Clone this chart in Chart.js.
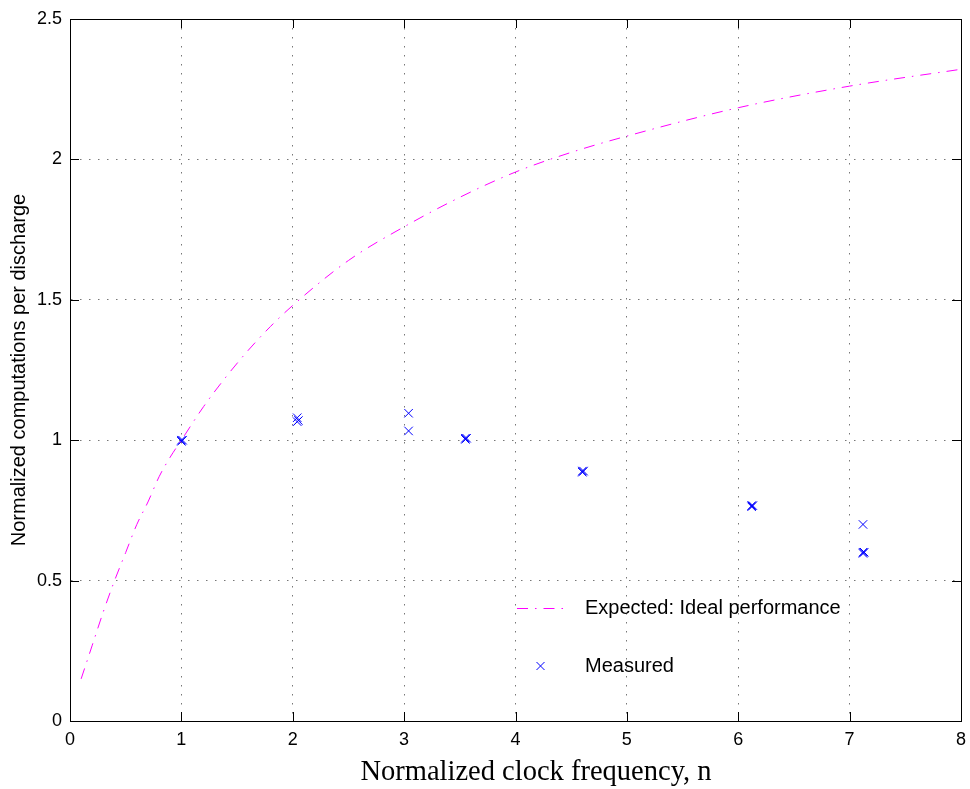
<!DOCTYPE html>
<html>
<head>
<meta charset="utf-8">
<script src="https://cdn.jsdelivr.net/npm/chart.js@4/dist/chart.umd.min.js"></script>
<style>
  html, body { margin: 0; padding: 0; background: #fff; }
  #wrap { width: 970px; height: 789px; }
</style>
</head>
<body>
<div id="wrap"><canvas id="chart" width="970" height="789"></canvas></div>
<script>
// expected (ideal) curve
const idealX = [0.1, 0.2, 0.3, 0.4, 0.5, 0.6, 0.7, 0.8, 0.9, 1.0, 1.2, 1.4, 1.6, 1.8, 2.0, 2.5, 3.0, 3.5, 4.0, 4.5, 5.0, 6.0, 7.0, 8.0];
const idealY = [0.15, 0.27, 0.39, 0.50, 0.60, 0.70, 0.78, 0.87, 0.94, 1.0, 1.12, 1.225, 1.32, 1.405, 1.48, 1.64, 1.76, 1.865, 1.955, 2.025, 2.083, 2.184, 2.261, 2.321];

// measured points (bold crosses are several runs lying almost on top of each other)
const measX = [1.0, 1.011, 1.0, 2.04, 2.051, 2.04, 3.04, 3.04, 3.55, 3.561, 3.55, 4.6, 4.611, 4.6, 6.12, 6.131, 6.12, 7.12, 7.12, 7.131, 7.12];
const measY = [1.0, 1.0, 0.996, 1.08, 1.07, 1.066, 1.096, 1.033, 1.007, 1.007, 1.003, 0.89, 0.89, 0.886, 0.767, 0.767, 0.763, 0.70, 0.601, 0.601, 0.597];

const xTicks = [0, 1, 2, 3, 4, 5, 6, 7, 8];
const yTicks = [0, 0.5, 1, 1.5, 2, 2.5];

const legendLabels = ['Expected: Ideal performance', 'Measured'];
const xTitle = 'Normalized clock frequency, n';

const DASHDOT = [11, 7, 1.5, 7];

// box round the plot + ticks pointing inwards + legend inside the axes + x title
const boxPlugin = {
    id: 'boxPlugin',
    afterDraw(chart) {
        const { ctx, chartArea: a, scales: { x, y } } = chart;
        ctx.save();
        ctx.strokeStyle = '#000';
        ctx.lineWidth = 1;
        ctx.strokeRect(a.left + 0.5, a.top + 0.5, a.right - a.left, a.bottom - a.top);
        ctx.beginPath();
        const t = 9;
        xTicks.forEach(v => {
            const px = Math.round(x.getPixelForValue(v)) + 0.5;
            ctx.moveTo(px, a.bottom); ctx.lineTo(px, a.bottom - t);
            ctx.moveTo(px, a.top); ctx.lineTo(px, a.top + t);
        });
        yTicks.forEach(v => {
            const py = Math.round(y.getPixelForValue(v)) + 0.5;
            ctx.moveTo(a.left, py); ctx.lineTo(a.left + t, py);
            ctx.moveTo(a.right, py); ctx.lineTo(a.right - t, py);
        });
        ctx.stroke();

        // x axis title (sits a little right of centre in the original)
        ctx.font = '28.5px "Liberation Serif", "Times New Roman", serif';
        ctx.fillStyle = '#000';
        ctx.textAlign = 'center';
        ctx.textBaseline = 'middle';
        ctx.fillText(xTitle, 536, 773);

        // legend
        ctx.font = '20px "Liberation Sans", Arial, sans-serif';
        ctx.textAlign = 'left';
        const lx0 = 517, lx1 = 567, tx = 585;
        const ly = [608, 666];
        ctx.strokeStyle = '#ff00ff';
        ctx.setLineDash(DASHDOT);
        ctx.beginPath();
        ctx.moveTo(lx0, ly[0] + 0.5); ctx.lineTo(lx1, ly[0] + 0.5);
        ctx.stroke();
        ctx.setLineDash([]);
        ctx.fillText(legendLabels[0], tx, ly[0]);
        ctx.strokeStyle = '#0000ff';
        const r = 4, cx = (lx0 + lx1) / 2 - 1.5;
        ctx.beginPath();
        ctx.moveTo(cx - r, ly[1] - r); ctx.lineTo(cx + r, ly[1] + r);
        ctx.moveTo(cx - r, ly[1] + r); ctx.lineTo(cx + r, ly[1] - r);
        ctx.stroke();
        ctx.fillText(legendLabels[1], tx, ly[1]);
        ctx.restore();
    }
};

const tickFont = { family: '"Liberation Sans", Arial, sans-serif', size: 18 };

new Chart(document.getElementById('chart'), {
    type: 'scatter',
    data: {
        datasets: [{
            label: legendLabels[0],
            data: idealX.map((v, i) => ({ x: v, y: idealY[i] })),
            showLine: true,
            borderColor: '#ff00ff',
            borderWidth: 1,
            borderDash: DASHDOT,
            pointRadius: 0,
            cubicInterpolationMode: 'monotone',
            fill: false
        }, {
            label: legendLabels[1],
            data: measX.map((v, i) => ({ x: v, y: measY[i] })),
            showLine: false,
            pointStyle: 'crossRot',
            pointRadius: 6,
            borderColor: '#0000ff',
            backgroundColor: '#0000ff',
            pointBorderColor: '#0000ff',
            pointBorderWidth: 1
        }]
    },
    options: {
        responsive: false,
        animation: false,
        events: [],
        layout: { padding: { top: 19, right: 9, left: 0, bottom: 0 } },
        plugins: {
            legend: { display: false },
            tooltip: { enabled: false }
        },
        scales: {
            x: {
                type: 'linear',
                min: 0, max: 8,
                afterFit: s => { s.height = 68; s.paddingLeft = 0; s.paddingRight = 0; },
                afterBuildTicks: s => { s.ticks = xTicks.map(v => ({ value: v })); },
                ticks: { color: '#000', font: tickFont, padding: 8, maxRotation: 0 },
                grid: { color: '#777', drawTicks: false, lineWidth: 1 },
                border: { display: true, color: '#000', dash: [1.5, 7.5] }
            },
            y: {
                type: 'linear',
                min: 0, max: 2.5,
                afterFit: s => { s.width = 70; s.paddingTop = 0; s.paddingBottom = 0; },
                afterBuildTicks: s => { s.ticks = yTicks.map(v => ({ value: v })); },
                ticks: { color: '#000', font: tickFont, padding: 8, callback: v => String(v) },
                grid: { color: '#777', drawTicks: false, lineWidth: 1 },
                border: { display: true, color: '#000', dash: [1.5, 7.5] },
                title: {
                    display: true,
                    text: 'Normalized computations per discharge',
                    color: '#000',
                    font: { family: '"Liberation Sans", Arial, sans-serif', size: 20 },
                    padding: { top: 7, bottom: 0 }
                }
            }
        }
    },
    plugins: [boxPlugin]
});
</script>
</body>
</html>
